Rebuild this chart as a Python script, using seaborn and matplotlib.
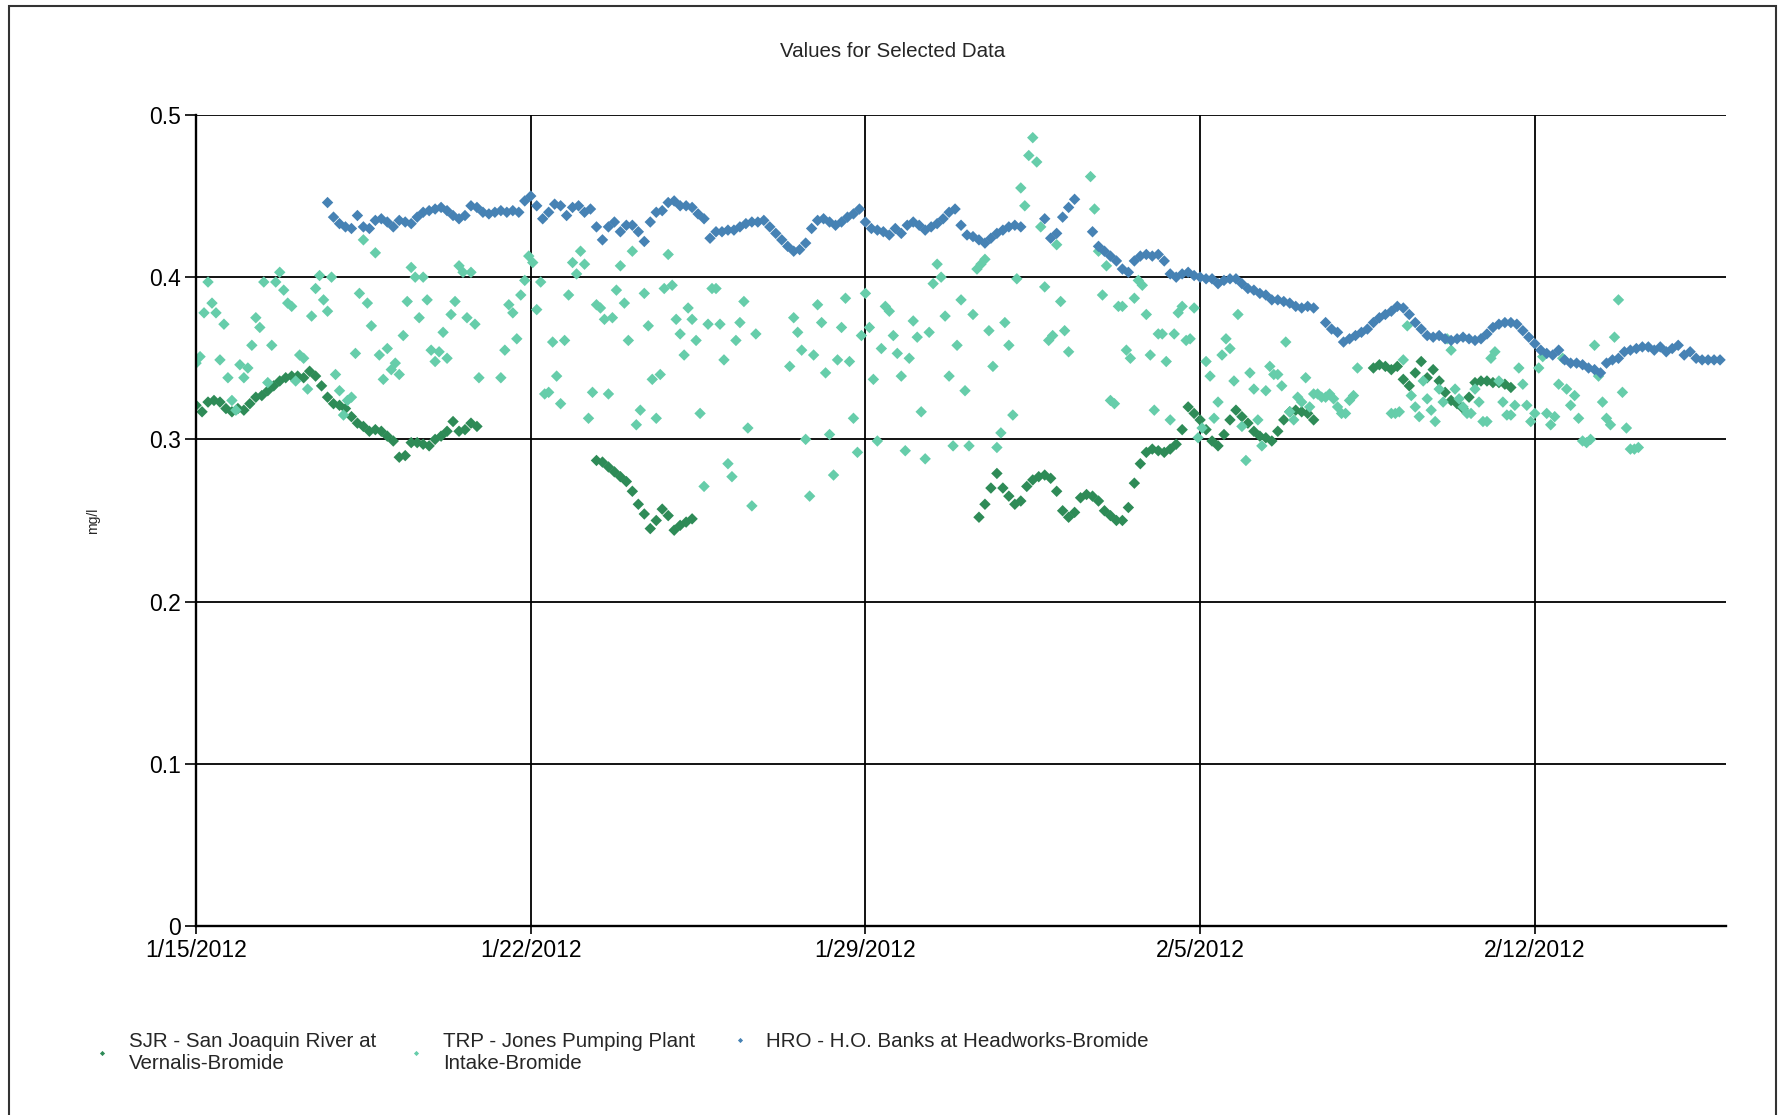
import pandas as pd
import matplotlib
matplotlib.use("Agg")
import matplotlib.pyplot as plt
import seaborn as sns
from matplotlib.patches import Rectangle

# Bromide readings (mg/l). Each series is stored in
# gap-free chunks, every chunk has a start time and a fixed sample step.

SJR_NAME = "SJR - San Joaquin River at\nVernalis-Bromide"
TRP_NAME = "TRP - Jones Pumping Plant\nIntake-Bromide"
HRO_NAME = "HRO - H.O. Banks at Headworks-Bromide"

# SJR, 3-hourly
sjr_starts = ["2012-01-15 00:00", "2012-01-23 09:00", "2012-01-31 09:00", "2012-02-08 15:00"]
sjr_a = [0.321, 0.317, 0.323, 0.324, 0.323, 0.319, 0.317, 0.319, 0.318, 0.322,
         0.326, 0.327, 0.330, 0.333, 0.336, 0.338, 0.339, 0.339, 0.338, 0.342,
         0.339, 0.333, 0.326, 0.322, 0.321, 0.319, 0.314, 0.310, 0.308, 0.305,
         0.306, 0.305, 0.302, 0.299, 0.289, 0.290, 0.298, 0.298, 0.297, 0.296,
         0.300, 0.302, 0.305, 0.311, 0.305, 0.306, 0.310, 0.308]
sjr_b = [0.287, 0.286, 0.283, 0.280, 0.277, 0.274, 0.268, 0.260, 0.254, 0.245,
         0.250, 0.257, 0.253, 0.244, 0.247, 0.249, 0.251]
sjr_c = [0.252, 0.260, 0.270, 0.279, 0.270, 0.265, 0.260, 0.262, 0.271, 0.275,
         0.277, 0.278, 0.276, 0.268, 0.256, 0.252, 0.255, 0.264, 0.266, 0.265,
         0.262, 0.256, 0.253, 0.250, 0.250, 0.258, 0.273, 0.285, 0.292, 0.294,
         0.293, 0.292, 0.294, 0.297, 0.306, 0.320, 0.316, 0.312, 0.306, 0.299,
         0.296, 0.303, 0.312, 0.318, 0.314, 0.310, 0.305, 0.302, 0.301, 0.299,
         0.305, 0.312, 0.317, 0.318, 0.317, 0.316, 0.312]
sjr_d = [0.344, 0.346, 0.345, 0.343, 0.345, 0.337, 0.333, 0.341, 0.348, 0.338,
         0.343, 0.336, 0.329, 0.324, 0.322, 0.319, 0.326, 0.335, 0.336, 0.336,
         0.335, 0.335, 0.334, 0.332]

# TRP, 2-hourly
trp_starts = ["2012-01-15 00:00", "2012-01-21 09:00", "2012-01-27 10:00",
              "2012-02-02 17:00", "2012-02-09 00:00"]
trp_a = [0.347, 0.351, 0.378, 0.397, 0.384, 0.378, 0.349, 0.371, 0.338, 0.324,
         0.318, 0.346, 0.338, 0.344, 0.358, 0.375, 0.369, 0.397, 0.335, 0.358,
         0.397, 0.403, 0.392, 0.384, 0.382, 0.336, 0.352, 0.350, 0.331, 0.376,
         0.393, 0.401, 0.386, 0.379, 0.400, 0.340, 0.330, 0.315, 0.324, 0.326,
         0.353, 0.390, 0.423, 0.384, 0.370, 0.415, 0.352, 0.337, 0.356, 0.343,
         0.347, 0.340, 0.364, 0.385, 0.406, 0.400, 0.375, 0.400, 0.386, 0.355,
         0.348, 0.354, 0.366, 0.350, 0.377, 0.385, 0.407, 0.403, 0.375, 0.403,
         0.371, 0.338]
trp_b = [0.338, 0.355, 0.383, 0.378, 0.362, 0.389, 0.398, 0.413, 0.409, 0.380,
         0.397, 0.328, 0.329, 0.360, 0.339, 0.322, 0.361, 0.389, 0.409, 0.402,
         0.416, 0.408, 0.313, 0.329, 0.383, 0.381, 0.374, 0.328, 0.375, 0.392,
         0.407, 0.384, 0.361, 0.416, 0.309, 0.318, 0.390, 0.370, 0.337, 0.313,
         0.340, 0.393, 0.414, 0.395, 0.374, 0.365, 0.352, 0.381, 0.374, 0.361,
         0.316, 0.271, 0.371, 0.393, 0.393, 0.371, 0.349, 0.285, 0.277, 0.361,
         0.372, 0.385, 0.307, 0.259, 0.365]
trp_c = [0.345, 0.375, 0.366, 0.355, 0.300, 0.265, 0.352, 0.383, 0.372, 0.341,
         0.303, 0.278, 0.349, 0.369, 0.387, 0.348, 0.313, 0.292, 0.364, 0.390,
         0.369, 0.337, 0.299, 0.356, 0.382, 0.379, 0.364, 0.353, 0.339, 0.293,
         0.350, 0.373, 0.363, 0.317, 0.288, 0.366, 0.396, 0.408, 0.400, 0.376,
         0.339, 0.296, 0.358, 0.386, 0.330, 0.296, 0.377, 0.405, 0.408, 0.411,
         0.367, 0.345, 0.295, 0.304, 0.372, 0.358, 0.315, 0.399, 0.455, 0.444,
         0.475, 0.486, 0.471, 0.431, 0.394, 0.361, 0.364, 0.420, 0.385, 0.367,
         0.354]
trp_d = [0.462, 0.442, 0.416, 0.389, 0.407, 0.324, 0.322, 0.382, 0.382, 0.355,
         0.350, 0.387, 0.398, 0.395, 0.377, 0.352, 0.318, 0.365, 0.365, 0.348,
         0.312, 0.365, 0.378, 0.382, 0.361, 0.362, 0.381, 0.301, 0.307, 0.348,
         0.339, 0.313, 0.323, 0.352, 0.362, 0.356, 0.336, 0.377, 0.308, 0.287,
         0.341, 0.331, 0.312, 0.296, 0.330, 0.345, 0.340, 0.340, 0.333, 0.360,
         0.317, 0.312, 0.326, 0.323, 0.338, 0.320, 0.328, 0.328, 0.326, 0.326,
         0.328, 0.325, 0.320, 0.316, 0.316, 0.324, 0.327, 0.344]
trp_e = [0.316, 0.316, 0.317, 0.349, 0.370, 0.327, 0.320, 0.314, 0.336, 0.325,
         0.318, 0.311, 0.331, 0.323, 0.362, 0.355, 0.331, 0.325, 0.320, 0.316,
         0.316, 0.331, 0.323, 0.311, 0.311, 0.350, 0.354, 0.336, 0.323, 0.315,
         0.315, 0.321, 0.344, 0.334, 0.321, 0.311, 0.316, 0.344, 0.351, 0.316,
         0.309, 0.314, 0.334, 0.350, 0.331, 0.321, 0.327, 0.313, 0.299, 0.298,
         0.300, 0.358, 0.339, 0.323, 0.313, 0.309, 0.363, 0.386, 0.329, 0.307,
         0.294, 0.294, 0.295]

# HRO, 3-hourly
hro_starts = ["2012-01-17 18:00", "2012-02-01 18:00", "2012-02-02 18:00", "2012-02-07 15:00"]
hro_a = [0.446, 0.437, 0.433, 0.431, 0.430, 0.438, 0.431, 0.430, 0.435, 0.436,
         0.434, 0.431, 0.435, 0.434, 0.433, 0.437, 0.440, 0.441, 0.442, 0.443,
         0.441, 0.438, 0.436, 0.438, 0.444, 0.443, 0.440, 0.439, 0.440, 0.441,
         0.440, 0.441, 0.440, 0.447, 0.450, 0.444, 0.436, 0.440, 0.445, 0.444,
         0.438, 0.443, 0.444, 0.440, 0.442, 0.431, 0.423, 0.431, 0.434, 0.428,
         0.432, 0.432, 0.428, 0.422, 0.434, 0.440, 0.441, 0.446, 0.447, 0.444,
         0.444, 0.443, 0.439, 0.436, 0.424, 0.428, 0.428, 0.429, 0.429, 0.431,
         0.433, 0.434, 0.434, 0.435, 0.431, 0.427, 0.423, 0.419, 0.416, 0.417,
         0.421, 0.430, 0.435, 0.436, 0.434, 0.432, 0.434, 0.437, 0.439, 0.442,
         0.434, 0.430, 0.429, 0.428, 0.426, 0.430, 0.427, 0.432, 0.434, 0.432,
         0.429, 0.431, 0.433, 0.436, 0.440, 0.442, 0.432, 0.426, 0.425, 0.423,
         0.421, 0.424, 0.427, 0.429, 0.431, 0.432, 0.431]
hro_b = [0.436, 0.424, 0.427, 0.437, 0.443, 0.448]
hro_c = [0.428, 0.419, 0.416, 0.413, 0.410, 0.405, 0.403, 0.410, 0.413, 0.414,
         0.413, 0.414, 0.410, 0.402, 0.400, 0.402, 0.403, 0.401, 0.400, 0.399,
         0.399, 0.396, 0.398, 0.399, 0.399, 0.396, 0.393, 0.392, 0.390, 0.389,
         0.386, 0.386, 0.385, 0.384, 0.382, 0.381, 0.382, 0.381]
hro_d = [0.372, 0.368, 0.366, 0.360, 0.362, 0.364, 0.366, 0.368, 0.372, 0.375,
         0.377, 0.379, 0.382, 0.381, 0.377, 0.372, 0.368, 0.364, 0.363, 0.364,
         0.362, 0.361, 0.362, 0.363, 0.362, 0.361, 0.362, 0.365, 0.369, 0.371,
         0.372, 0.372, 0.371, 0.367, 0.363, 0.359, 0.355, 0.353, 0.352, 0.355,
         0.349, 0.347, 0.347, 0.346, 0.344, 0.343, 0.341, 0.347, 0.349, 0.350,
         0.354, 0.355, 0.356, 0.357, 0.357, 0.355, 0.357, 0.354, 0.356, 0.358,
         0.352, 0.354, 0.350, 0.349, 0.349, 0.349, 0.349]

tick_dates = ["2012-01-15", "2012-01-22", "2012-01-29", "2012-02-05", "2012-02-12"]
tick_labels = ["1/15/2012", "1/22/2012", "1/29/2012", "2/5/2012", "2/12/2012"]
y_ticks = [0, 0.1, 0.2, 0.3, 0.4, 0.5]
y_labels = ["0", "0.1", "0.2", "0.3", "0.4", "0.5"]

colors = {SJR_NAME: "#2E8B57", TRP_NAME: "#66CDAA", HRO_NAME: "#4682B4"}


def chunks_to_frame(starts, chunks, freq, name):
    parts = []
    for start, vals in zip(starts, chunks):
        t = pd.date_range(start, periods=len(vals), freq=freq)
        parts.append(pd.DataFrame({"time": t, "value": vals, "series": name}))
    return pd.concat(parts, ignore_index=True)


df = pd.concat([
    chunks_to_frame(sjr_starts, [sjr_a, sjr_b, sjr_c, sjr_d], "3h", SJR_NAME),
    chunks_to_frame(trp_starts, [trp_a, trp_b, trp_c, trp_d, trp_e], "2h", TRP_NAME),
    chunks_to_frame(hro_starts, [hro_a, hro_b, hro_c, hro_d], "3h", HRO_NAME),
], ignore_index=True)

sns.set_style("white")
plt.rcParams["font.family"] = ["Liberation Sans", "DejaVu Sans"]

fig = plt.figure(figsize=(17.84, 11.15), dpi=100)
ax = fig.add_axes([0.1099, 0.1695, 0.8576, 0.7274])

sns.scatterplot(data=df, x="time", y="value", hue="series",
                hue_order=[SJR_NAME, TRP_NAME, HRO_NAME], palette=colors,
                marker="D", s=34, linewidth=0, ax=ax)

ax.set_xlim(pd.Timestamp("2012-01-15"), pd.Timestamp("2012-02-16"))
ax.set_ylim(0, 0.5)
ax.set_xticks(pd.to_datetime(tick_dates))
ax.set_xticklabels(tick_labels)
ax.set_yticks(y_ticks)
ax.set_yticklabels(y_labels)

ax.grid(True, color="black", linewidth=1.3)
ax.set_axisbelow(True)
for side in ["top", "right"]:
    ax.spines[side].set_visible(False)
for side in ["left", "bottom"]:
    ax.spines[side].set_color("black")
    ax.spines[side].set_linewidth(1.7)

ax.tick_params(axis="y", left=True, direction="out", length=8, width=1.2,
               pad=3, labelsize=16.5, colors="black")
ax.tick_params(axis="x", bottom=True, direction="out", length=6, width=1.2,
               pad=3, labelsize=16.5, colors="black")

ax.set_xlabel("")
ax.set_ylabel("mg/l", fontsize=10)
ax.yaxis.set_label_coords(-0.063, 0.5)

handles, labels = ax.get_legend_handles_labels()
ax.get_legend().remove()
leg_style = dict(loc="upper left", frameon=False, fontsize=14.8, handlelength=1.0,
                 handletextpad=0.8, columnspacing=1.45, borderpad=0,
                 borderaxespad=0, markerscale=0.45)
# two-line entries, then the single-line HRO entry aligned to the first line
fig.legend(handles[:2], labels[:2], ncol=2, bbox_to_anchor=(0.0516, 0.0744), **leg_style)
fig.legend(handles[2:], labels[2:], ncol=1, bbox_to_anchor=(0.4089, 0.0744), **leg_style)

fig.text(0.5006, 0.954, "Values for Selected Data", ha="center", va="center",
         fontsize=14.8)

# outer frame of the chart image
fig.add_artist(Rectangle((9 / 1784, -0.05), (1776 - 9) / 1784, 1.05 - 6 / 1115,
                         transform=fig.transFigure, fill=False,
                         edgecolor="#333333", linewidth=1.5))

fig.savefig("out.png", dpi=100)
